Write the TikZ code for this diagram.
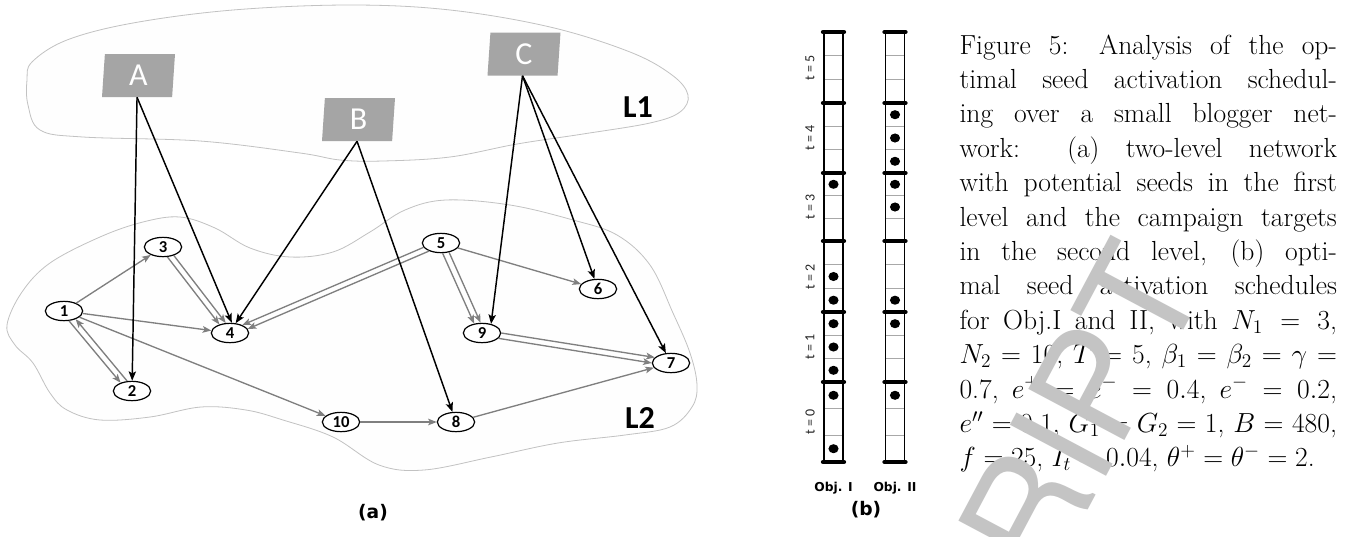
\RequirePackage{fix-cm}
\documentclass[tikz,border=0pt]{standalone}
\usepackage{fontspec}
\newfontfamily\cali{Carlito}
\newfontfamily\dvs{DejaVu Sans}
\newfontfamily\heros{TeX Gyre Heros}
\usetikzlibrary{shapes.geometric,arrows.meta,calc}
\definecolor{blobfill}{rgb}{0.997,0.997,0.997}
\definecolor{blobline}{HTML}{C2C2C2}
\definecolor{boxgray}{HTML}{A5A5A5}
\definecolor{edgegray}{HTML}{7F7F7F}
\definecolor{wmgray}{HTML}{C4C4C4}
\definecolor{cellline}{HTML}{A8A8A8}
\tikzset{
  blob/.style={fill=blobfill, draw=blobline, line width=0.6pt},
  vtx/.style={ellipse, draw=black, line width=0.9pt, fill=white, minimum width=28pt,
    minimum height=14.5pt, inner sep=0pt, font=\cali\bfseries\fontsize{12.5}{13}\selectfont},
  seed/.style={trapezium, trapezium left angle=82, trapezium right angle=98,
    trapezium stretches body, fill=boxgray, minimum width=54.75pt, minimum height=32.25pt,
    inner sep=0pt, text=white, font=\cali\fontsize{24}{26}\selectfont},
  bedge/.style={black, line width=1.1pt, -{Stealth[length=7pt,width=5.5pt,inset=1.5pt]}},
  gedge/.style={edgegray, line width=1pt, -{Stealth[length=6.5pt,width=5pt,inset=1.5pt]}},
  gback/.style={edgegray, line width=1pt, {Stealth[length=6.5pt,width=5pt,inset=1.5pt]}-},
  layerlbl/.style={font=\cali\bfseries\fontsize{24}{26}\selectfont},
  tlbl/.style={rotate=90, text=black!85, font=\cali\fontsize{10.5}{12}\selectfont},
  objlbl/.style={font=\dvs\bfseries\fontsize{9.2}{11}\selectfont},
  sublbl/.style={font=\dvs\bfseries\fontsize{14}{16}\selectfont},
  sep/.style={black, line width=3.2pt, line cap=round},
  side/.style={black, line width=1.1pt},
  cell/.style={cellline, line width=0.6pt},
  dot/.style={fill=black}
}
\newcommand\dbledge[3]{%
  \draw[gedge] let \p1=(#1), \p2=(#2), \n1={atan2(\y2-\y1,\x2-\x1)} in
    (#1.{\n1+#3}) -- (#2.{\n1+180-#3});
  \draw[gedge] let \p1=(#1), \p2=(#2), \n1={atan2(\y2-\y1,\x2-\x1)} in
    (#1.{\n1-#3}) -- (#2.{\n1+180+#3});
}
\begin{document}
\begin{tikzpicture}[x=0.75pt,y=-0.75pt]
\useasboundingbox (0,0) rectangle (1353,536);
\fill[white] (0,0) rectangle (1353,536);

% ---------- (a) two-level network ----------
\draw[blob] plot[smooth cycle, tension=0.6] coordinates {
 (32,62) (67,40) (133,23) (233,10) (350,5) (450,10) (550,27) (630,52) (672,75)
 (688,95) (680,112) (650,123) (583,134) (517,144) (450,157) (383,161) (340,160)
 (300,153) (200,141) (83,137) (40,130) (28,105) (27,80)};
\draw[blob] plot[smooth cycle, tension=0.6] coordinates {
 (7,325) (22,292) (50,263) (100,237) (143,222) (180,217) (215,228) (250,248)
 (290,257) (333,252) (370,232) (405,210) (446,200) (510,205) (573,220) (617,235)
 (650,265) (673,313) (690,353) (697,385) (692,407) (670,427) (625,435) (558,443)
 (491,457) (424,470) (379,465) (333,437) (283,420) (246,410) (201,407) (150,417)
 (100,420) (67,410) (50,393) (33,363) (15,345)};

\node[layerlbl] (L1) at (638,107) {L1};
\node[layerlbl] (L2) at (640,418) {L2};

\node[seed] (A) at (138.5,75.5) {A};
\node[seed] (B) at (358.5,119.5) {B};
\node[seed] (C) at (524,54) {C};
\coordinate (As) at ($(A.bottom left corner)!0.5!(A.bottom right corner)$);
\coordinate (Bs) at ($(B.bottom left corner)!0.5!(B.bottom right corner)$);
\coordinate (Cs) at ($(C.bottom left corner)!0.5!(C.bottom right corner)$);

\node[vtx] (n1) at (64,311) {1};
\node[vtx] (n2) at (132,391) {2};
\node[vtx] (n3) at (163,247) {3};
\node[vtx] (n4) at (230,333) {4};
\node[vtx] (n5) at (441,243) {5};
\node[vtx] (n6) at (598,289) {6};
\node[vtx] (n7) at (671,363) {7};
\node[vtx] (n8) at (456,422) {8};
\node[vtx] (n9) at (482,333) {9};
\node[vtx] (n10) at (341,422) {10};

% gray edges
\draw[gedge] (n1) -- (n3);
\draw[gedge] (n1) -- (n4);
\draw[gedge] (n1) -- (n10);
\draw[gedge] let \p1=(n1), \p2=(n2), \n1={atan2(\y2-\y1,\x2-\x1)} in
  (n1.{\n1-14}) -- (n2.{\n1+194});
\draw[gback] let \p1=(n1), \p2=(n2), \n1={atan2(\y2-\y1,\x2-\x1)} in
  (n1.{\n1+14}) -- (n2.{\n1+166});
\dbledge{n3}{n4}{14}
\dbledge{n5}{n4}{10}
\dbledge{n5}{n9}{16}
\dbledge{n9}{n7}{9.5}
\draw[gedge] (n5) -- (n6);
\draw[gedge] (n10) -- (n8);
\draw[gedge] (n8) -- (n7);

% black edges
\draw[bedge] (As) -- (n2);
\draw[bedge] (As) -- (n4.80);
\draw[bedge] (Bs) -- (n4.60);
\draw[bedge] (Bs) -- (n8);
\draw[bedge] (Cs) -- (n9.45);
\draw[bedge] (Cs) -- (n6);
\draw[bedge] (Cs) -- (n7);

\node[sublbl] (la) at (373,513) {(a)};

% ---------- (b) schedules ----------
\foreach \cx in {833.5,895}{
  \fill[white] (\cx-9.5,32) rectangle (\cx+9.5,462);
  \foreach \a/\b in {32/103,103/173,173/241,241/312,312/382,382/462}{
    \draw[cell] (\cx-9.5,{\a+(\b-\a)/3}) -- (\cx+9.5,{\a+(\b-\a)/3});
    \draw[cell] (\cx-9.5,{\a+2*(\b-\a)/3}) -- (\cx+9.5,{\a+2*(\b-\a)/3});
  }
  \draw[side] (\cx-9.5,32) -- (\cx-9.5,462);
  \draw[side] (\cx+9.5,32) -- (\cx+9.5,462);
  \foreach \y in {32,103,173,241,312,382,462}{
    \draw[sep] (\cx-10.5,\y) -- (\cx+10.5,\y);
  }
}
\foreach \y in {184.3,276.5,300.2,323.7,347,370.3,395.3,448.7}{
  \fill[dot] (833.5,\y) ellipse [x radius=3.8pt, y radius=3.4pt];
}
\foreach \y in {114.7,138,161.3,184.3,207,300.2,323.7,395.3}{
  \fill[dot] (895,\y) ellipse [x radius=3.8pt, y radius=3.4pt];
}
\node[tlbl] (t5) at (810,67.5) {t = 5};
\node[tlbl] (t4) at (810,138) {t = 4};
\node[tlbl] (t3) at (810,207) {t = 3};
\node[tlbl] (t2) at (810,276.5) {t = 2};
\node[tlbl] (t1) at (810,347) {t = 1};
\node[tlbl] (t0) at (810,422) {t = 0};
\node[objlbl] (o1) at (833.5,488) {Obj. I};
\node[objlbl] (o2) at (895,488) {Obj. II};
\node[sublbl] (lb) at (866,510) {(b)};

% ---------- caption ----------
\node[anchor=base west, inner sep=0pt] (cap) at (959.3,54) {\parbox[t]{283pt}{%
\fontsize{20.7}{25.8}\selectfont\hyphenpenalty=10000 \tolerance=10000
Figure 5: Analysis of the op-\linebreak
timal seed activation schedul-\linebreak
ing over a small blogger net-\linebreak
work: (a) two-level network\linebreak
with potential seeds in the first\linebreak
level and the campaign targets\linebreak
in the second level, (b) opti-\linebreak
mal seed activation schedules\linebreak
for Obj.I and II, with $N_1 = 3$,\linebreak
$N_2 = 10$, $T = 5$, $\beta_1 = \beta_2 = \gamma =$\linebreak
0.7, $e^+ = e^- = 0.4$, $e^- = 0.2$,\linebreak
$e'' = 0.1$, $G_1 = G_2 = 1$, $B = 480$,\linebreak
$f = 25$, $I_t = 0.04$, $\theta^+ = \theta^- = 2$.}};

% ---------- watermark ----------
\node[rotate=62, anchor=base west, inner sep=0pt, text=wmgray,
  font=\heros\fontsize{112}{112}\selectfont] (wm) at (998,680) {CRIPT};
\end{tikzpicture}
\end{document}
